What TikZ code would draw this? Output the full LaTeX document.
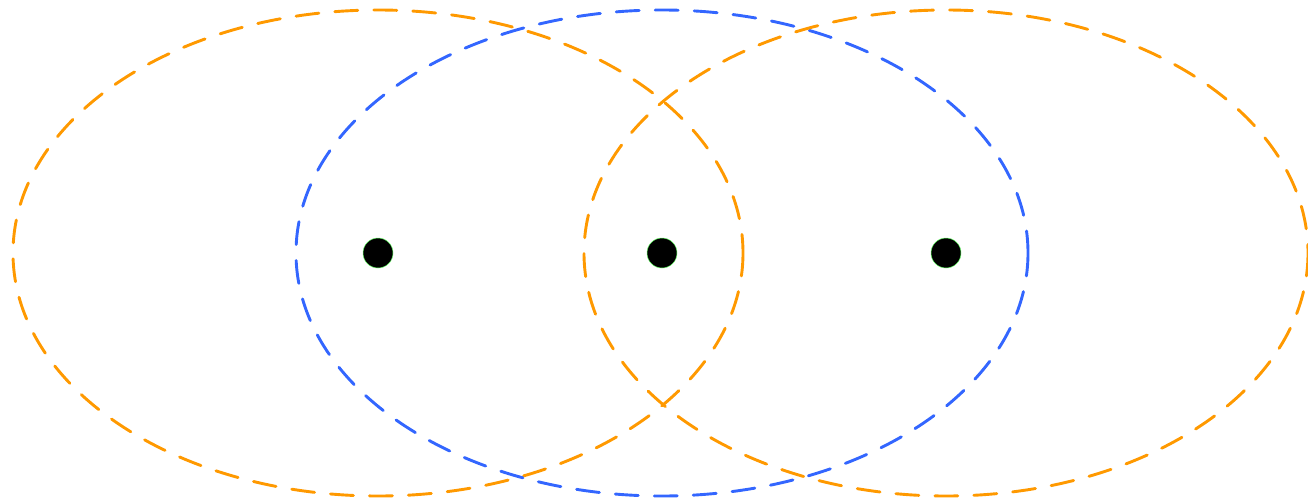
\documentclass[tikz,border=0pt]{standalone}
\begin{document}
\begin{tikzpicture}[x=1pt,y=-1pt,
  ring/.style={line width=2.9pt, dash pattern=on 23pt off 16pt, line cap=round},
  dotnode/.style={circle, fill=black, draw=green!60!white, line width=0.5pt, minimum size=30pt, inner sep=0pt}]
\definecolor{ringorange}{RGB}{255,153,0}
\definecolor{ringblue}{RGB}{51,102,255}
\useasboundingbox (0,0) rectangle (1308,503);
\clip (0,0) rectangle (1308,503);
\node[dotnode] (a) at (378,253) {};
\node[dotnode] (b) at (662,253) {};
\node[dotnode] (c) at (946,253) {};
\draw[ring, ringorange] (a) ellipse [x radius=365, y radius=243];
\draw[ring, ringblue] (b) ellipse [x radius=366, y radius=243];
\draw[ring, ringorange] (c) ellipse [x radius=362, y radius=243];
\end{tikzpicture}
\end{document}
